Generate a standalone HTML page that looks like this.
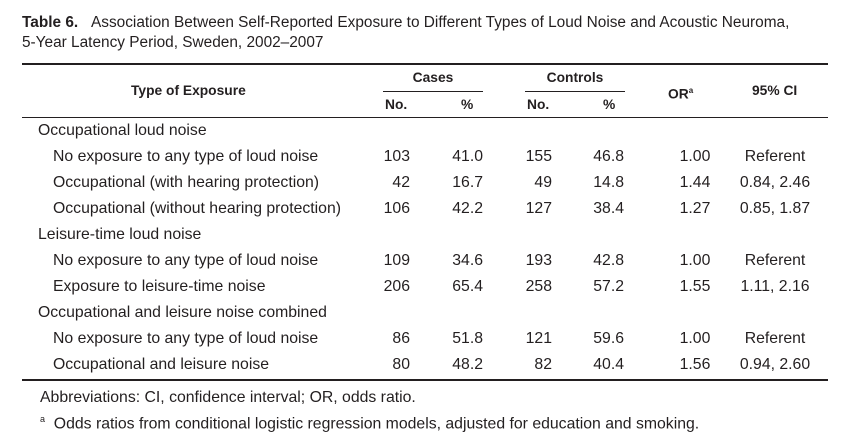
<!DOCTYPE html>
<html><head><style>
body{margin:0;width:859px;height:431px;background:#fff;font-family:"Liberation Sans",Arial,sans-serif;color:#231f20;position:relative;overflow:hidden}
div.t{position:absolute;white-space:nowrap;font-size:15.8px;line-height:18px}
.b{font-weight:bold}
.h{position:absolute;background:#231f20}
.r{text-align:right}
.c{text-align:center}
.hd{font-size:13.8px!important}
</style></head><body>
<div class="t" style="left:22px;top:14px;font-size:15.4px"><span class="b">Table 6.</span>&nbsp;&nbsp;&nbsp;Association Between Self-Reported Exposure to Different Types of Loud Noise and Acoustic Neuroma,</div>
<div class="t" style="left:22px;top:34px;font-size:15.4px">5-Year Latency Period, Sweden, 2002–2007</div>
<div class="h" style="left:22px;top:63px;width:806px;height:2px"></div>
<div class="h" style="left:383px;top:91px;width:100px;height:1px"></div>
<div class="h" style="left:525px;top:91px;width:100px;height:1px"></div>
<div class="h" style="left:22px;top:117px;width:806px;height:1px"></div>
<div class="h" style="left:22px;top:379px;width:806px;height:2px"></div>
<div class="t b hd" style="left:131px;top:82px">Type of Exposure</div>
<div class="t b hd c" style="left:383px;width:100px;top:69px">Cases</div>
<div class="t b hd c" style="left:525px;width:100px;top:69px">Controls</div>
<div class="t b hd" style="left:385px;top:96px">No.</div>
<div class="t b hd" style="left:461px;top:96px">%</div>
<div class="t b hd" style="left:527px;top:96px">No.</div>
<div class="t b hd" style="left:603px;top:96px">%</div>
<div class="t b hd" style="left:668px;top:82px">OR<sup style="font-size:8px">a</sup></div>
<div class="t b hd" style="left:752px;top:82px">95% CI</div>
<div id="rows"></div>
<div class="t" style="left:40px;top:389px">Abbreviations: CI, confidence interval; OR, odds ratio.</div>
<div class="t" style="left:40px;top:410px"><sup style="font-size:9px">a</sup>&nbsp;&nbsp;Odds ratios from conditional logistic regression models, adjusted for education and smoking.</div>
<script>
var R=[["Occupational loud noise"],["No exposure to any type of loud noise","103","41.0","155","46.8","1.00","Referent"],["Occupational (with hearing protection)","42","16.7","49","14.8","1.44","0.84, 2.46"],["Occupational (without hearing protection)","106","42.2","127","38.4","1.27","0.85, 1.87"],["Leisure-time loud noise"],["No exposure to any type of loud noise","109","34.6","193","42.8","1.00","Referent"],["Exposure to leisure-time noise","206","65.4","258","57.2","1.55","1.11, 2.16"],["Occupational and leisure noise combined"],["No exposure to any type of loud noise","86","51.8","121","59.6","1.00","Referent"],["Occupational and leisure noise","80","48.2","82","40.4","1.56","0.94, 2.60"]];
var h="";R.forEach(function(r,i){var y=122+i*26;
if(r.length==1){h+='<div class="t" style="left:38px;top:'+y+'px">'+r[0]+'</div>';return;}
h+='<div class="t" style="left:53px;top:'+y+'px">'+r[0]+'</div>';
var rs=[[410,1],[483,2],[552,3],[624,4]];rs.forEach(function(p){h+='<div class="t r" style="left:'+(p[0]-60)+'px;width:60px;top:'+y+'px">'+r[p[1]]+'</div>';});
h+='<div class="t c" style="left:655px;width:80px;top:'+y+'px">'+r[5]+'</div>';
h+='<div class="t c" style="left:725px;width:100px;top:'+y+'px">'+r[6]+'</div>';});
document.getElementById("rows").innerHTML=h;
</script>
</body></html>
